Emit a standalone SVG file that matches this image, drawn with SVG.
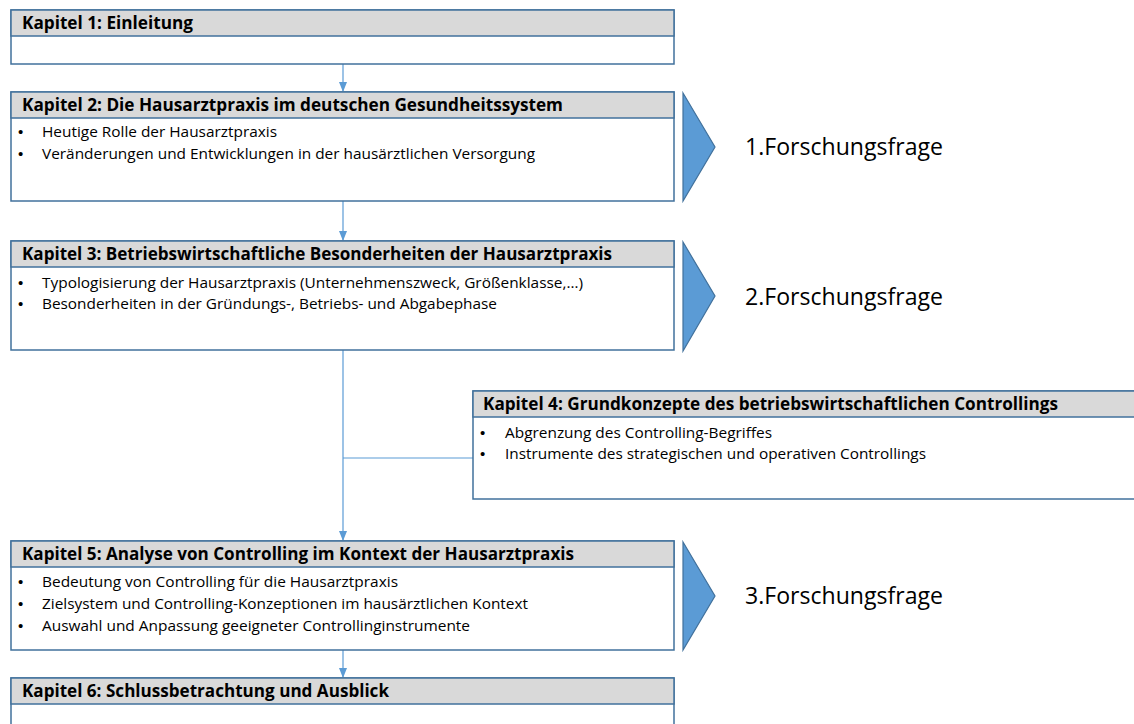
<svg xmlns="http://www.w3.org/2000/svg" width="1134" height="724" viewBox="0 0 1134 724">
<defs>
<style>
.box{fill:#fff;stroke:#41719C;stroke-width:1.5}
.hdr{fill:#D9D9D9;stroke:#41719C;stroke-width:1.5}
.ht{font-family:"Open Sans","Liberation Sans",sans-serif;font-weight:bold;font-size:17px;fill:#000}
.bt{font-family:"Open Sans","Liberation Sans",sans-serif;font-size:14.5px;fill:#000}
.bu{font-family:"Liberation Sans",sans-serif;font-size:15px;fill:#000}
.ff{font-family:"Open Sans","Liberation Sans",sans-serif;font-size:24.5px;fill:#000}
.chev{fill:#5B9BD5;stroke:#41719C;stroke-width:1.2}
.con{stroke:#5B9BD5;stroke-width:1.2;fill:none}
</style>
<marker id="ah" markerWidth="10" markerHeight="8" refX="9" refY="4" orient="auto" markerUnits="userSpaceOnUse">
<path d="M0,0 L10,4 L0,8 Z" fill="#5B9BD5"/>
</marker>
</defs>
<rect width="1134" height="724" fill="#fff"/>
<g id="connectors">
<line class="con" x1="343" y1="64" x2="343" y2="91" marker-end="url(#ah)"/>
<line class="con" x1="343" y1="201" x2="343" y2="240" marker-end="url(#ah)"/>
<line class="con" x1="343" y1="350" x2="343" y2="540" marker-end="url(#ah)"/>
<line class="con" x1="343" y1="458" x2="473" y2="458"/>
<line class="con" x1="343" y1="650" x2="343" y2="677" marker-end="url(#ah)"/>
</g>
<g id="k1">
<rect class="box" x="11" y="10" width="663" height="54"/>
<rect class="hdr" x="11" y="10" width="663" height="26"/>
<text class="ht" x="22" y="29" textLength="171" lengthAdjust="spacingAndGlyphs">Kapitel 1: Einleitung</text>
</g>
<g id="k2">
<rect class="box" x="11" y="92" width="663" height="109"/>
<rect class="hdr" x="11" y="92" width="663" height="26"/>
<text class="ht" x="22" y="111" textLength="541" lengthAdjust="spacingAndGlyphs">Kapitel 2: Die Hausarztpraxis im deutschen Gesundheitssystem</text>
<text class="bu" x="18" y="137">•</text>
<text class="bt" x="42" y="137" textLength="235" lengthAdjust="spacingAndGlyphs">Heutige Rolle der Hausarztpraxis</text>
<text class="bu" x="18" y="159">•</text>
<text class="bt" x="42" y="159" textLength="493" lengthAdjust="spacingAndGlyphs">Veränderungen und Entwicklungen in der hausärztlichen Versorgung</text>
</g>
<g id="k3">
<rect class="box" x="11" y="241" width="663" height="109"/>
<rect class="hdr" x="11" y="241" width="663" height="26"/>
<text class="ht" x="22" y="260" textLength="590" lengthAdjust="spacingAndGlyphs">Kapitel 3: Betriebswirtschaftliche Besonderheiten der Hausarztpraxis</text>
<text class="bu" x="18" y="288">•</text>
<text class="bt" x="42" y="288" textLength="541" lengthAdjust="spacingAndGlyphs">Typologisierung der Hausarztpraxis (Unternehmenszweck, Größenklasse,…)</text>
<text class="bu" x="18" y="309">•</text>
<text class="bt" x="42" y="309" textLength="455" lengthAdjust="spacingAndGlyphs">Besonderheiten in der Gründungs-, Betriebs- und Abgabephase</text>
</g>
<g id="k4">
<rect class="box" x="473" y="391" width="670" height="108"/>
<rect class="hdr" x="473" y="391" width="670" height="26"/>
<text class="ht" x="483" y="410" textLength="575" lengthAdjust="spacingAndGlyphs">Kapitel 4: Grundkonzepte des betriebswirtschaftlichen Controllings</text>
<text class="bu" x="480" y="438">•</text>
<text class="bt" x="505" y="438" textLength="267" lengthAdjust="spacingAndGlyphs">Abgrenzung des Controlling-Begriffes</text>
<text class="bu" x="480" y="459">•</text>
<text class="bt" x="505" y="459" textLength="421" lengthAdjust="spacingAndGlyphs">Instrumente des strategischen und operativen Controllings</text>
</g>
<g id="k5">
<rect class="box" x="11" y="541" width="663" height="109"/>
<rect class="hdr" x="11" y="541" width="663" height="26"/>
<text class="ht" x="22" y="560" textLength="552" lengthAdjust="spacingAndGlyphs">Kapitel 5: Analyse von Controlling im Kontext der Hausarztpraxis</text>
<text class="bu" x="18" y="587">•</text>
<text class="bt" x="42" y="587" textLength="356" lengthAdjust="spacingAndGlyphs">Bedeutung von Controlling für die Hausarztpraxis</text>
<text class="bu" x="18" y="609">•</text>
<text class="bt" x="42" y="609" textLength="486" lengthAdjust="spacingAndGlyphs">Zielsystem und Controlling-Konzeptionen im hausärztlichen Kontext</text>
<text class="bu" x="18" y="631">•</text>
<text class="bt" x="42" y="631" textLength="428" lengthAdjust="spacingAndGlyphs">Auswahl und Anpassung geeigneter Controllinginstrumente</text>
</g>
<g id="k6">
<rect class="box" x="11" y="678" width="663" height="60"/>
<rect class="hdr" x="11" y="678" width="663" height="26"/>
<text class="ht" x="22" y="697" textLength="367" lengthAdjust="spacingAndGlyphs">Kapitel 6: Schlussbetrachtung und Ausblick</text>
</g>
<g id="f1">
<polygon class="chev" points="683,93 715,147 683,201"/>
<text class="ff" x="745" y="155" textLength="198" lengthAdjust="spacingAndGlyphs">1.Forschungsfrage</text>
</g>
<g id="f2">
<polygon class="chev" points="683,242 715,296 683,351"/>
<text class="ff" x="745" y="305" textLength="198" lengthAdjust="spacingAndGlyphs">2.Forschungsfrage</text>
</g>
<g id="f3">
<polygon class="chev" points="683,542 715,596 683,650"/>
<text class="ff" x="745" y="604" textLength="198" lengthAdjust="spacingAndGlyphs">3.Forschungsfrage</text>
</g>
</svg>
